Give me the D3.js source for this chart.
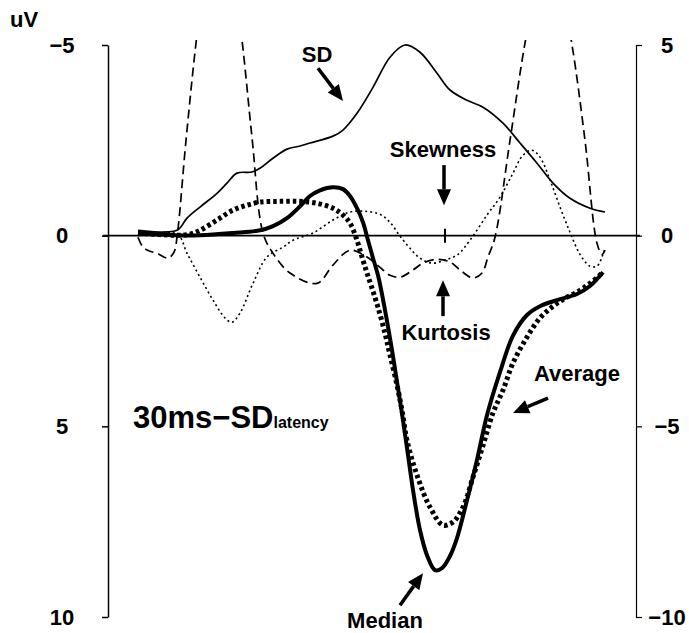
<!DOCTYPE html>
<html>
<head>
<meta charset="utf-8">
<script src="https://cdn.jsdelivr.net/npm/d3@7"></script>
<style>
  body { margin: 0; background: #fff; }
  svg text { font-family: "Liberation Sans", Arial, sans-serif; font-weight: bold; fill: #000; }
</style>
</head>
<body>
<div id="graph"></div>
<script>
// time samples (ms from start of sweep) and values
// Median / Average are in uV on the left axis (negative up)
const medianTime = [30,69,92,125,152,165,179,192,202,212,225,235,242,249,255,260,265,270,277,284,290,295,300,305,312,319,327,334,342,349,359,369,379,392,405,419,432,449,469,482,495];
const medianVal  = [-0.07,-0.01,-0.01,-0.07,-0.14,-0.25,-0.46,-0.77,-1.04,-1.19,-1.27,-1.22,-1.04,-0.72,-0.35,0.12,0.59,1.04,1.95,3.00,4.00,4.84,5.75,6.67,7.72,8.38,8.77,8.72,8.40,7.93,6.94,5.88,4.71,3.58,2.62,2.08,1.85,1.69,1.53,1.32,0.96];

const averageTime = [30,69,82,92,109,125,139,152,172,192,209,225,235,242,249,254,259,264,270,277,282,289,294,299,309,322,335,345,355,365,375,385,395,405,419,432,445,457,469,482,495];
const averageVal  = [-0.07,-0.01,-0.04,-0.14,-0.41,-0.67,-0.80,-0.88,-0.90,-0.90,-0.85,-0.72,-0.54,-0.33,0.12,0.56,0.98,1.38,1.88,2.56,3.13,3.92,4.58,5.37,6.28,7.12,7.59,7.51,7.12,6.33,5.50,4.65,4.05,3.34,2.66,2.16,1.85,1.64,1.48,1.25,0.96];

// SD, skewness and kurtosis use the right axis (positive up)
const sdTime = [30,69,79,92,109,119,129,144,152,165,179,192,202,225,235,249,265,282,297,312,329,342,359,375,395,412,429,445,462,482,497];
const sdVal  = [0.14,0.14,0.46,0.75,1.11,1.38,1.64,1.67,1.77,2.03,2.27,2.35,2.43,2.61,2.77,3.21,3.89,4.68,5.00,4.81,4.26,3.82,3.55,3.37,2.95,2.43,1.90,1.38,0.98,0.72,0.62];

const skewTime = [30,69,79,92,105,117,124,132,145,159,175,185,205,225,242,257,272,282,292,302,312,324,337,350,362,379,392,405,415,424,432,442,452,462,472,482,489,495,497];
const skewVal  = [0,0.04,-0.46,-1.09,-1.69,-2.16,-2.27,-2.03,-1.25,-0.56,-0.30,-0.12,0.07,0.41,0.62,0.64,0.56,0.35,-0.01,-0.33,-0.59,-0.72,-0.64,-0.49,-0.12,0.54,1.01,1.64,2.11,2.24,2.06,1.46,0.75,0.09,-0.49,-0.80,-0.80,-0.49,-0.33];

const kurtTime = [30,35,42,49,60,66,69,78,88,99,111,123,134,144,155,165,182,209,225,242,259,272,282,292,305,315,329,342,352,365,374,380,387,402,417,429,440,452,464,477,489,494,497];
const kurtVal  = [-0.04,-0.30,-0.41,-0.46,-0.59,-0.43,-0.04,2.50,5.05,7.30,8.40,7.30,5.13,2.58,0.07,-0.46,-0.98,-1.25,-0.77,-0.38,-0.56,-0.83,-1.04,-1.09,-0.90,-0.72,-0.62,-0.69,-0.90,-1.11,-0.98,-0.56,-0.04,2.50,5.05,6.60,7.20,6.60,5.00,2.50,-0.20,-0.49,-0.38];

const leftTicks = [-5, 0, 5, 10];
const rightTicks = [5, 0, -5, -10];

const width = 689, height = 633;

const svg = d3.select('#graph').append('svg')
  .attr('width', width)
  .attr('height', height);

const x = d3.scaleLinear().domain([0, 528]).range([108, 636]);
const yLeft = d3.scaleLinear().domain([-5, 10]).range([45, 617]);
const yRight = d3.scaleLinear().domain([5, -10]).range([45, 617]);

// kurtosis goes far off the top, clip it just above the -5 line
svg.append('clipPath').attr('id', 'plotClip')
  .append('rect').attr('x', 0).attr('y', 40).attr('width', width).attr('height', height - 40);

// Left axis
const gLeft = svg.append('g')
  .attr('transform', 'translate(' + x(0) + ',0)')
  .call(d3.axisLeft(yLeft).tickValues(leftTicks).tickSize(6).tickSizeOuter(0));
gLeft.select('.domain').attr('stroke-width', 1.5);
gLeft.selectAll('line').attr('stroke-width', 1.5);
gLeft.selectAll('text')
  .attr('x', -46)
  .attr('text-anchor', 'middle')
  .style('font-size', '22px');

// Right axis
const gRight = svg.append('g')
  .attr('transform', 'translate(' + x(528) + ',0)')
  .call(d3.axisRight(yRight).tickValues(rightTicks).tickSize(6).tickSizeOuter(0));
gRight.select('.domain').attr('stroke-width', 1.2);
gRight.selectAll('line').attr('stroke-width', 1.2);
gRight.selectAll('text')
  .attr('x', 31)
  .attr('text-anchor', 'middle')
  .style('font-size', '22px');

// unit label
svg.append('text').attr('x', 10).attr('y', 27).style('font-size', '22px').text('uV');

// zero line
svg.append('line')
  .attr('x1', x(-5)).attr('x2', x(532))
  .attr('y1', yLeft(0)).attr('y2', yLeft(0))
  .attr('stroke', '#000').attr('stroke-width', 1.6);

// small tick on the zero line where the two arrows point
svg.append('line')
  .attr('x1', x(337)).attr('x2', x(337))
  .attr('y1', yLeft(0) - 7).attr('y2', yLeft(0) + 7)
  .attr('stroke', '#000').attr('stroke-width', 2);

const lineLeft = d3.line()
  .x(d => x(d[0])).y(d => yLeft(d[1]))
  .curve(d3.curveCatmullRom.alpha(0.5));
const lineRight = d3.line()
  .x(d => x(d[0])).y(d => yRight(d[1]))
  .curve(d3.curveCatmullRom.alpha(0.5));

const zip = (a, b) => a.map((t, i) => [t, b[i]]);

// Skewness - thin dotted
svg.append('path')
  .datum(zip(skewTime, skewVal))
  .attr('d', lineRight)
  .attr('fill', 'none').attr('stroke', '#000')
  .attr('stroke-width', 1.6).attr('stroke-dasharray', '2,3');

// Kurtosis - dashed
svg.append('path')
  .datum(zip(kurtTime, kurtVal))
  .attr('d', lineRight)
  .attr('clip-path', 'url(#plotClip)')
  .attr('fill', 'none').attr('stroke', '#000')
  .attr('stroke-width', 1.7).attr('stroke-dasharray', '9,5');

// SD - thin solid
svg.append('path')
  .datum(zip(sdTime, sdVal))
  .attr('d', lineRight)
  .attr('fill', 'none').attr('stroke', '#000')
  .attr('stroke-width', 1.7);

// Average - thick dotted
svg.append('path')
  .datum(zip(averageTime, averageVal))
  .attr('d', lineLeft)
  .attr('fill', 'none').attr('stroke', '#000')
  .attr('stroke-width', 5).attr('stroke-dasharray', '3.5,3');

// Median - thick solid
svg.append('path')
  .datum(zip(medianTime, medianVal))
  .attr('d', lineLeft)
  .attr('fill', 'none').attr('stroke', '#000')
  .attr('stroke-width', 4);

// arrows: shaft + filled head, positions in data units
function drawArrow(t1, v1, t2, v2) {
  const x1 = x(t1), y1 = yLeft(v1), x2 = x(t2), y2 = yLeft(v2);
  const ang = Math.atan2(y2 - y1, x2 - x1);
  const headLen = 16, headW = 7;
  const bx = x2 - headLen * Math.cos(ang), by = y2 - headLen * Math.sin(ang);
  svg.append('line')
    .attr('x1', x1).attr('y1', y1).attr('x2', bx).attr('y2', by)
    .attr('stroke', '#000').attr('stroke-width', 3.5);
  const px = -Math.sin(ang) * headW, py = Math.cos(ang) * headW;
  svg.append('path')
    .attr('d', 'M' + x2 + ',' + y2 + 'L' + (bx + px) + ',' + (by + py) + 'L' + (bx - px) + ',' + (by - py) + 'Z')
    .attr('fill', '#000');
}

// labels
const labels = [
  { text: 'SD', t: 209, v: -4.55 },
  { text: 'Skewness', t: 335, v: -2.06 },
  { text: 'Kurtosis', t: 338, v: 2.74 },
  { text: 'Average', t: 469, v: 3.81 },
  { text: 'Median', t: 277, v: 10.3 }
];
labels.forEach(l => {
  svg.append('text')
    .attr('x', x(l.t)).attr('y', yLeft(l.v))
    .attr('text-anchor', 'middle')
    .style('font-size', '22px')
    .text(l.text);
});

drawArrow(210, -4.39, 235, -3.53);   // SD
drawArrow(336, -1.85, 336, -0.80);   // Skewness
drawArrow(335, 2.11, 335, 1.17);     // Kurtosis
drawArrow(440, 4.26, 405, 4.65);     // Average
drawArrow(292, 9.69, 315, 8.85);     // Median

// condition label with subscript
const cond = svg.append('text')
  .attr('x', x(25)).attr('y', yLeft(5.05))
  .style('font-size', '31px');
cond.append('tspan').text('30ms\u2212SD');
cond.append('tspan').style('font-size', '16px').text('latency');
</script>
</body>
</html>
